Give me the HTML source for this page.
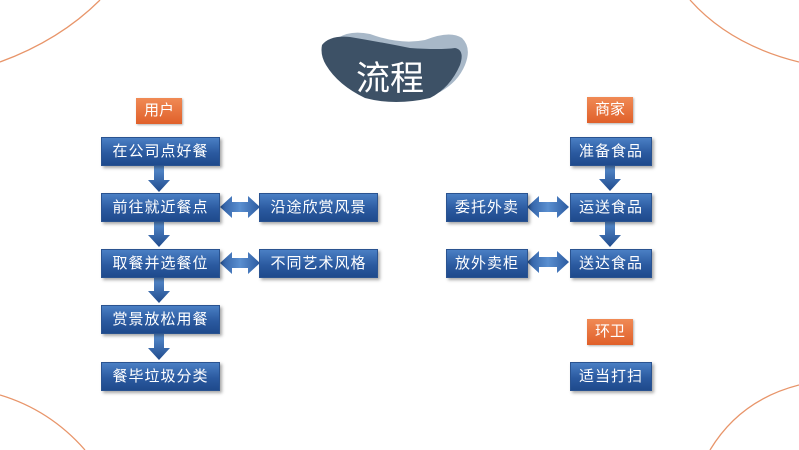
<!DOCTYPE html>
<html><head><meta charset="utf-8"><style>
body{margin:0;width:799px;height:450px;background:#fff;position:relative;overflow:hidden;font-family:"Liberation Sans","Noto Sans CJK SC",sans-serif}
.b{position:absolute;height:27px;line-height:27px;color:#fff;font-size:15px;text-align:center;background:linear-gradient(#4a7fc4,#2b5aa0 55%,#1f4a8c);border:1px solid #2a5390;box-shadow:2px 2px 3px rgba(0,0,0,.35);letter-spacing:1px}
.o{position:absolute;height:26px;line-height:26px;color:#fff;font-size:15px;text-align:center;background:linear-gradient(#f08a55,#e0602a);box-shadow:1px 1px 2px rgba(0,0,0,.3)}
svg{position:absolute;left:0;top:0}
</style></head><body>
<svg width="799" height="450">
<defs><linearGradient id="g" x1="0" x2="1"><stop offset="0" stop-color="#2b5aa0"/><stop offset=".5" stop-color="#5a8fd0"/><stop offset="1" stop-color="#2b5aa0"/></linearGradient>
<linearGradient id="h" y1="0" y2="1" x1="0" x2="0"><stop offset="0" stop-color="#5a8fd0"/><stop offset="1" stop-color="#1f4a8c"/></linearGradient></defs>
<path d="M0,62 Q60,40 100,0" fill="none" stroke="#e8956a" stroke-width="1.3"/>
<path d="M690,0 Q730,45 799,62" fill="none" stroke="#e8956a" stroke-width="1.3"/>
<path d="M0,395 Q50,410 85,450" fill="none" stroke="#e8956a" stroke-width="1.3"/>
<path d="M710,450 Q740,400 799,385" fill="none" stroke="#e8956a" stroke-width="1.3"/>
<path d="M338,38 Q350,30 370,34 Q400,45 425,40 Q450,30 462,38 Q472,48 465,65 Q458,82 440,92 Q400,100 370,92 Q345,80 338,60 Z" fill="#a8b8c8"/>
<path d="M322,45 Q330,35 350,37 Q380,42 410,48 Q440,50 455,48 Q465,50 460,65 Q450,88 430,98 Q395,106 365,98 Q338,85 326,65 Q320,55 322,45 Z" fill="#3d5166"/>
<text x="356" y="90" font-size="34" fill="#fff" font-family="Noto Sans CJK SC,sans-serif">流程</text>
<g fill="url(#h)">
<path d="M154,166 h10 v14 h6 l-11,12 l-11,-12 h6z"/>
<path d="M154,221 h10 v14 h6 l-11,12 l-11,-12 h6z"/>
<path d="M154,277 h10 v14 h6 l-11,12 l-11,-12 h6z"/>
<path d="M154,334 h10 v14 h6 l-11,12 l-11,-12 h6z"/>
<path d="M605,165 h10 v14 h6 l-11,12 l-11,-12 h6z"/>
<path d="M605,221 h10 v14 h6 l-11,12 l-11,-12 h6z"/>
</g>
<g fill="url(#g)">
<path d="M220,207 l12,-11 v6 h16 v-6 l12,11 l-12,11 v-6 h-16 v6z"/>
<path d="M220,263 l12,-11 v6 h16 v-6 l12,11 l-12,11 v-6 h-16 v6z"/>
<path d="M527,207 l12,-11 v6 h18 v-6 l12,11 l-12,11 v-6 h-18 v6z"/>
<path d="M527,262 l12,-11 v6 h18 v-6 l12,11 l-12,11 v-6 h-18 v6z"/>
</g>
</svg>
<div class="o" style="left:136px;top:98px;width:46px">用户</div>
<div class="o" style="left:587px;top:97px;width:46px">商家</div>
<div class="o" style="left:587px;top:319px;width:46px">环卫</div>
<div class="b" style="left:101px;top:137px;width:117px">在公司点好餐</div>
<div class="b" style="left:101px;top:193px;width:117px">前往就近餐点</div>
<div class="b" style="left:101px;top:249px;width:117px">取餐并选餐位</div>
<div class="b" style="left:101px;top:305px;width:117px">赏景放松用餐</div>
<div class="b" style="left:101px;top:362px;width:117px">餐毕垃圾分类</div>
<div class="b" style="left:259px;top:193px;width:117px">沿途欣赏风景</div>
<div class="b" style="left:259px;top:249px;width:117px">不同艺术风格</div>
<div class="b" style="left:570px;top:137px;width:80px">准备食品</div>
<div class="b" style="left:570px;top:193px;width:80px">运送食品</div>
<div class="b" style="left:570px;top:249px;width:80px">送达食品</div>
<div class="b" style="left:446px;top:193px;width:80px">委托外卖</div>
<div class="b" style="left:446px;top:249px;width:80px">放外卖柜</div>
<div class="b" style="left:570px;top:362px;width:80px">适当打扫</div>
</body></html>
